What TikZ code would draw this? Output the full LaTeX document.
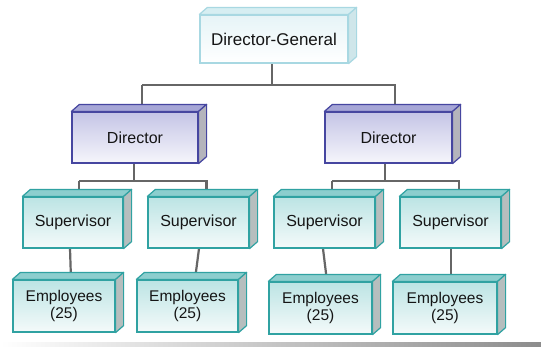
\documentclass[tikz,border=0pt]{standalone}
\usepackage{fontspec}
\setmainfont{Liberation Sans}
\usetikzlibrary{backgrounds}
\definecolor{txt}{HTML}{151515}
\definecolor{conncol}{HTML}{666666}
\definecolor{dgborder}{HTML}{A8D8E2}
\definecolor{dgtop}{HTML}{E6F4F7}
\definecolor{dgbevel}{HTML}{D6EEF2}
\definecolor{dgside}{HTML}{CFE6EA}
\definecolor{dborder}{HTML}{4646A0}
\definecolor{dtop}{HTML}{C4C4E6}
\definecolor{dbot}{HTML}{F6F6FB}
\definecolor{dbevel}{HTML}{A6A6D6}
\definecolor{dside}{HTML}{B4B4BC}
\definecolor{tborder}{HTML}{30A2A2}
\definecolor{ttop}{HTML}{BCE4E4}
\definecolor{tbot}{HTML}{F4FAFA}
\definecolor{tbevel}{HTML}{8CCECE}
\definecolor{tside}{HTML}{B6BEBE}
\tikzset{
  x=1pt, y=-1pt,
  box/.style={draw, line width=1.2pt, inner sep=0pt, align=center, text=txt},
  dgbox/.style={box, draw=dgborder, top color=dgtop, bottom color=white,
    minimum width=148pt, minimum height=48pt, font=\fontsize{17}{20}\selectfont},
  dirbox/.style={box, draw=dborder, top color=dtop, bottom color=dbot,
    minimum height=51pt, font=\fontsize{16}{19}\selectfont},
  supbox/.style={box, draw=tborder, top color=ttop, bottom color=tbot,
    minimum height=51pt, font=\fontsize{16}{18}\selectfont},
  empbox/.style={box, draw=tborder, top color=ttop, bottom color=tbot,
    minimum height=52pt, font=\fontsize{15.5}{17}\selectfont},
  conn/.style={draw=conncol, line width=2.2pt},
}
% bevel: node, bevel fill, side fill, border colour
\newcommand\boxbevel[4]{%
  \draw[line width=1.2pt, draw=#4, fill=#2, line join=round]
    (#1.north west) -- ++(8,-7) -- ([xshift=8pt,yshift=7pt]#1.north east) -- (#1.north east) -- cycle;
  \draw[line width=1.2pt, draw=#4, fill=#3, line join=round]
    (#1.north east) -- ++(8,-7) -- ([xshift=8pt,yshift=7pt]#1.south east) -- (#1.south east) -- cycle;
}
\begin{document}
\begin{tikzpicture}
\useasboundingbox (0,0) rectangle (541,346);

% nodes (front faces)
\node[dgbox] (dg) at (274,39) {Director-General};
\node[dirbox, minimum width=126pt] (d1) at (135,137.5) {Director};
\node[dirbox, minimum width=127pt] (d2) at (388.5,137.5) {Director};
\node[supbox, minimum width=100pt] (s1) at (73,222.5) {Supervisor};
\node[supbox, minimum width=101pt] (s2) at (198.5,222.5) {Supervisor};
\node[supbox, minimum width=101pt] (s3) at (324.5,222.5) {Supervisor};
\node[supbox, minimum width=101pt] (s4) at (450.5,222.5) {Supervisor};
\node[empbox, minimum width=102pt] (e1) at (64,306) {Employees\\(25)};
\node[empbox, minimum width=101pt] (e2) at (187.5,306) {Employees\\(25)};
\node[empbox, minimum width=103pt] (e3) at (320.5,308) {Employees\\(25)};
\node[empbox, minimum width=104pt] (e4) at (445,308) {Employees\\(25)};

\boxbevel{dg}{dgbevel}{dgside}{dgborder}
\boxbevel{d1}{dbevel}{dside}{dborder}
\boxbevel{d2}{dbevel}{dside}{dborder}
\foreach \n in {s1,s2,s3,s4,e1,e2,e3,e4}{\boxbevel{\n}{tbevel}{tside}{tborder}}

\begin{scope}[on background layer]
  \fill[white] (0,0) rectangle (541,346);
  \draw[conn] ([xshift=-2pt]dg.south) |- (142,85) coordinate (j0) -| (395,85) -- ([xshift=6.5pt]d2.north);
  \draw[conn] (j0) -- ([xshift=7pt]d1.north);
  \draw[conn] ([xshift=-1pt]d1.south) -- (134,181) coordinate (j1);
  \draw[conn] (79,181) -| ([xshift=8pt]s2.north);
  \draw[conn] (79,181) -- ([xshift=6pt]s1.north);
  \draw[conn] ([xshift=-3.5pt]d2.south) -- (385,181) coordinate (j2);
  \draw[conn] (332,181) -| ([xshift=8.5pt]s4.north);
  \draw[conn] (332,181) -- ([xshift=7.5pt]s3.north);
  \draw[conn] ([xshift=-3pt]s1.south) -- ([xshift=7pt]e1.north);
  \draw[conn] ([xshift=0.5pt]s2.south) -- ([xshift=7.5pt]e2.north);
  \draw[conn] ([xshift=-1.5pt]s3.south) -- ([xshift=6.5pt]e3.north);
  \draw[conn] ([xshift=0.5pt]s4.south) -- ([xshift=6pt]e4.north);
\end{scope}

\shade[left color=white, right color=black!45] (0,342.5) rectangle (541,346);
\end{tikzpicture}
\end{document}
